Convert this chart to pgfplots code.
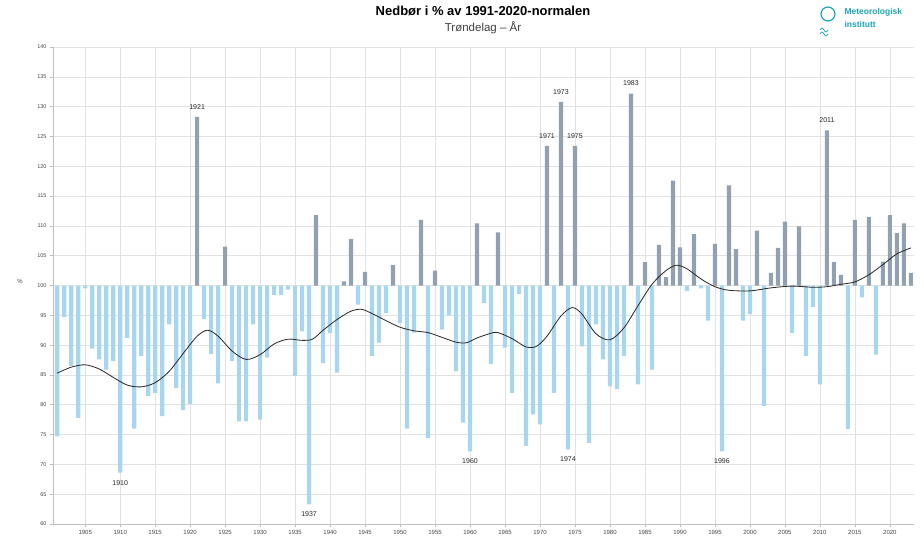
\documentclass[border=0pt]{standalone}
\usepackage{fontspec}
\setmainfont{Liberation Sans}
\usepackage{pgfplots}
\pgfplotsset{compat=1.18}
\usepackage{pgfplotstable}
\definecolor{posbar}{RGB}{146,161,178}
\definecolor{negbar}{RGB}{168,214,238}
\definecolor{gridc}{RGB}{226,226,226}
\definecolor{axc}{RGB}{190,190,190}
\definecolor{metc}{RGB}{25,165,185}
\definecolor{tickc}{RGB}{70,70,70}

\pgfplotstableread{
year v
1921 128.3
1925 106.5
1938 111.8
1942 100.7
1943 107.8
1945 102.3
1949 103.4
1953 111.0
1955 102.5
1961 110.4
1964 108.9
1971 123.4
1973 130.8
1975 123.4
1983 132.2
1985 103.9
1987 106.8
1988 101.4
1989 117.6
1990 106.4
1992 108.6
1995 107.0
1997 116.8
1998 106.1
2001 109.2
2003 102.1
2004 106.3
2005 110.7
2007 109.9
2011 126.0
2012 103.9
2013 101.8
2015 111.0
2017 111.5
2019 104.0
2020 111.8
2021 108.8
2022 110.4
2023 102.1
}\posdata

\pgfplotstableread{
year v
1901 74.7
1902 94.7
1903 86.5
1904 77.8
1905 99.5
1906 89.4
1907 87.6
1908 85.9
1909 87.3
1910 68.6
1911 91.2
1912 76.0
1913 88.2
1914 81.5
1915 82.0
1916 78.1
1917 93.5
1918 82.8
1919 79.1
1920 80.1
1922 94.4
1923 88.5
1924 83.6
1926 87.3
1927 77.2
1928 77.2
1929 93.5
1930 77.5
1931 87.9
1932 98.4
1933 98.4
1934 99.3
1935 84.8
1936 92.3
1937 63.3
1939 87.0
1940 92.0
1941 85.4
1944 96.8
1946 88.2
1947 90.4
1948 95.4
1950 93.7
1951 76.0
1952 92.1
1954 74.4
1956 92.6
1957 95.0
1958 85.6
1959 77.0
1960 72.2
1962 97.1
1963 86.8
1965 89.6
1966 82.0
1967 98.6
1968 73.1
1969 78.4
1970 76.7
1972 82.0
1974 72.5
1976 89.8
1977 73.6
1978 93.5
1979 87.6
1980 83.1
1981 82.6
1982 88.2
1984 83.4
1986 85.9
1991 99.1
1993 99.5
1994 94.1
1996 72.2
1999 94.1
2000 95.2
2002 79.8
2006 92.0
2008 88.2
2009 96.4
2010 83.4
2014 75.9
2016 98.0
2018 88.4
}\negdata

\pgfplotstableread{
year v
1901 85.3
1903 86.3
1905 86.7
1907 86.0
1909 84.6
1911 83.3
1913 83.0
1915 83.7
1917 85.6
1919 88.6
1921 91.5
1922.5 92.5
1924 91.5
1926 89.0
1928 87.6
1930 88.4
1932 90.2
1934 91.0
1936 90.8
1937.5 91.0
1939 92.5
1941 94.3
1943 95.7
1944.5 96.0
1946 95.3
1948 94.1
1950 93.0
1952 92.4
1954 92.1
1956 91.3
1958 90.5
1959.5 90.4
1961 91.2
1963 92.0
1964 92.1
1966 91.1
1968 89.7
1969.5 89.8
1971 91.5
1973 94.9
1974.6 96.3
1976 95.2
1978 91.9
1980 90.9
1982 92.9
1984 96.6
1986 100.2
1988 102.5
1989.5 103.4
1991 102.8
1993 101.1
1995 99.8
1997 99.2
2000 99.1
2003 99.6
2006 99.9
2009 99.7
2011 99.8
2013 100.2
2015 100.6
2017 101.8
2019 103.5
2021 105.3
2023 106.3
}\curvedata

\pgfplotstableread{
year v
1921 128.3
1971 123.4
1973 130.8
1975 123.4
1983 132.2
2011 126.0
}\toplab

\pgfplotstableread{
year v
1910 68.6
1937 63.3
1960 72.2
1974 72.5
1996 72.2
}\botlab

\begin{document}
\begin{tikzpicture}[x=1pt,y=1pt]
\path[use as bounding box] (0,0) rectangle (924,541);
\begin{axis}[
  at={(53pt,17pt)}, anchor=south west,
  scale only axis, width=861pt, height=477pt,
  xmin=1900.4, xmax=2023.45, ymin=-40, ymax=40,
  xtick={1905,1910,...,2020},
  ytick={-40,-35,...,40},
  yticklabel={\pgfmathparse{int(round(\tick+100))}\pgfmathresult},
  xticklabel style={/pgf/number format/1000 sep={}, font=\fontsize{6}{7}\selectfont, text=tickc},
  yticklabel style={font=\fontsize{5.5}{6.5}\selectfont, text=tickc},
  /pgf/number format/assume math mode=true,
  grid=major, major grid style={gridc, line width=0.6pt},
  axis x line*=bottom, axis y line*=left,
  axis line style={axc, line width=0.7pt},
  tick style={axc, line width=0.6pt},
  tick align=outside, major tick length=3pt,
  clip=false,
  ybar, bar width=4.2pt, bar shift=0pt,
]
\addplot[draw=none, fill=negbar] table[x=year, y expr=\thisrow{v}-100] {\negdata};
\addplot[draw=none, fill=posbar] table[x=year, y expr=\thisrow{v}-100] {\posdata};
\addplot[sharp plot, smooth, black!85, line width=0.8pt, mark=none] table[x=year, y expr=\thisrow{v}-100] {\curvedata};
\addplot[sharp plot, only marks, mark=none, nodes near coords, point meta=explicit symbolic,
  nodes near coords style={anchor=south, yshift=4pt, font=\fontsize{7}{8}\selectfont, text=black!85}]
  table[x=year, y expr=\thisrow{v}-100, meta=year] {\toplab};
\addplot[sharp plot, only marks, mark=none, nodes near coords, point meta=explicit symbolic,
  nodes near coords style={anchor=north, yshift=-4pt, font=\fontsize{7}{8}\selectfont, text=black!85}]
  table[x=year, y expr=\thisrow{v}-100, meta=year] {\botlab};
\end{axis}
\node[font=\fontsize{6}{7}\selectfont, text=tickc] at (20,260) {\%};
\node[font=\bfseries\fontsize{13}{15}\selectfont] at (483,530) {Nedbør i \% av 1991-2020-normalen};
\node[font=\fontsize{11.5}{13}\selectfont, text=black!75] at (483,513) {Trøndelag – År};
\draw[metc, line width=1.2pt] (828,527) circle (7);
\draw[metc, line width=0.7pt] (820,511) sin (822,513) cos (824,511) sin (826,509) cos (828,511);
\draw[metc, line width=0.7pt] (820,507) sin (822,509) cos (824,507) sin (826,505) cos (828,507);
\node[anchor=west, font=\bfseries\fontsize{8.5}{9}\selectfont, text=metc] at (841,529) {Meteorologisk};
\node[anchor=west, font=\bfseries\fontsize{8.5}{9}\selectfont, text=metc] at (841,517) {institutt};
\end{tikzpicture}
\end{document}
